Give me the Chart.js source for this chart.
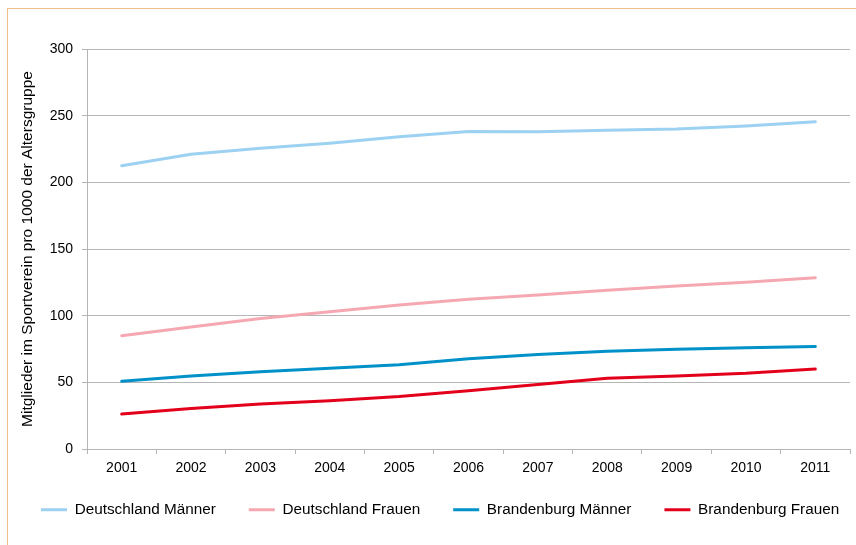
<!DOCTYPE html>
<html>
<head>
<meta charset="utf-8">
<script src="https://cdn.jsdelivr.net/npm/chart.js@4"></script>
<style>
  html, body { margin: 0; padding: 0; background: #fff; }
  #wrap { position: relative; width: 856px; height: 545px; overflow: hidden; }
  #c { position: absolute; left: 0; top: 0; }
  #frame { position: absolute; left: 7px; top: 8px; right: -10px; bottom: -10px;
           border-left: 1px solid #EDC08A; border-top: 1px solid #EDC08A; pointer-events: none; }
</style>
</head>
<body>
<div id="wrap">
  <canvas id="c" width="856" height="545"></canvas>
  <div id="frame"></div>
</div>
<script>
const years = ['2001','2002','2003','2004','2005','2006','2007','2008','2009','2010','2011'];
const deMaenner = [212.5, 221, 225.5, 229.3, 234.2, 238.2, 238, 239, 240, 242.3, 245.5];
const deFrauen  = [85, 91.5, 97.8, 103, 108, 112.4, 115.5, 119, 122.2, 125, 128.5];
const bbMaenner = [50.8, 54.8, 58, 60.5, 63.2, 67.7, 70.8, 73.3, 74.8, 76, 76.8];
const bbFrauen  = [26.2, 30.4, 33.7, 36.2, 39.3, 43.7, 48.4, 53, 54.8, 56.8, 60];
const yTitle = 'Mitglieder im Sportverein pro 1000 der Altersgruppe';
const seriesNames = ['Deutschland Männer', 'Deutschland Frauen', 'Brandenburg Männer', 'Brandenburg Frauen'];
const seriesColors = ['#9DD1F1', '#F5A8B1', '#0091C9', '#E3001B'];

const FONT = '"Liberation Sans", Arial, sans-serif';
const GRID = '#B5B5B5';

function ds(label, data, color) {
  return {
    label, data,
    borderColor: color, backgroundColor: color,
    borderWidth: 3, pointRadius: 0, pointHoverRadius: 0,
    tension: 0, borderCapStyle: 'round', borderJoinStyle: 'round', fill: false
  };
}

// keep the legend on one row and nudge it up a little
const legendTweak = {
  id: 'legendTweak',
  beforeLayout(chart) {
    const lg = chart.legend;
    if (lg && !lg._oneRow) {
      const origFit = lg._fitRows.bind(lg);
      lg._fitRows = function (...a) {
        const mw = this.maxWidth;
        this.maxWidth = 100000;
        const r = origFit(...a);
        this.maxWidth = mw;
        return r;
      };
      const origDraw = lg._draw.bind(lg);
      lg._draw = function () {
        const r = this.right;
        this.right = 100000;
        origDraw();
        this.right = r;
      };
      lg._oneRow = true;
    }
  },
  afterLayout(chart) {
    const l = chart.legend;
    if (l) { l.top -= 5; l.bottom -= 5; }
  }
};

new Chart(document.getElementById('c'), {
  type: 'line',
  data: {
    labels: years,
    datasets: [
      ds(seriesNames[0], deMaenner, seriesColors[0]),
      ds(seriesNames[1], deFrauen, seriesColors[1]),
      ds(seriesNames[2], bbMaenner, seriesColors[2]),
      ds(seriesNames[3], bbFrauen, seriesColors[3])
    ]
  },
  plugins: [legendTweak],
  options: {
    responsive: false,
    animation: false,
    events: [],
    layout: { padding: { left: 8, right: 6, top: 49, bottom: 12.7 } },
    plugins: {
      tooltip: { enabled: false },
      legend: {
        position: 'bottom',
        align: 'start',
        labels: {
          usePointStyle: true,
          pointStyle: 'line',
          pointStyleWidth: 26,
          boxHeight: 15.3,
          padding: 33,
          color: '#000',
          font: { family: FONT, size: 15.3 }
        }
      }
    },
    scales: {
      x: {
        offset: true,
        grid: { display: true, drawOnChartArea: false, drawTicks: true, tickLength: 5, color: GRID, offset: true },
        border: { display: true, color: GRID },
        ticks: { color: '#000', font: { family: FONT, size: 14 }, padding: 6, maxRotation: 0, autoSkip: false },
        afterFit: s => { s.height = 25; }
      },
      y: {
        min: 0, max: 300,
        grid: { color: GRID, tickLength: 5, drawTicks: true },
        border: { display: true, color: GRID },
        ticks: { stepSize: 50, color: '#000', font: { family: FONT, size: 14 }, padding: 9 },
        title: { display: true, text: yTitle, color: '#000', font: { family: FONT, size: 15.5 }, padding: { top: 10.7, bottom: 0 } },
        afterFit: s => { s.width = 79; }
      }
    }
  }
});
</script>
</body>
</html>
